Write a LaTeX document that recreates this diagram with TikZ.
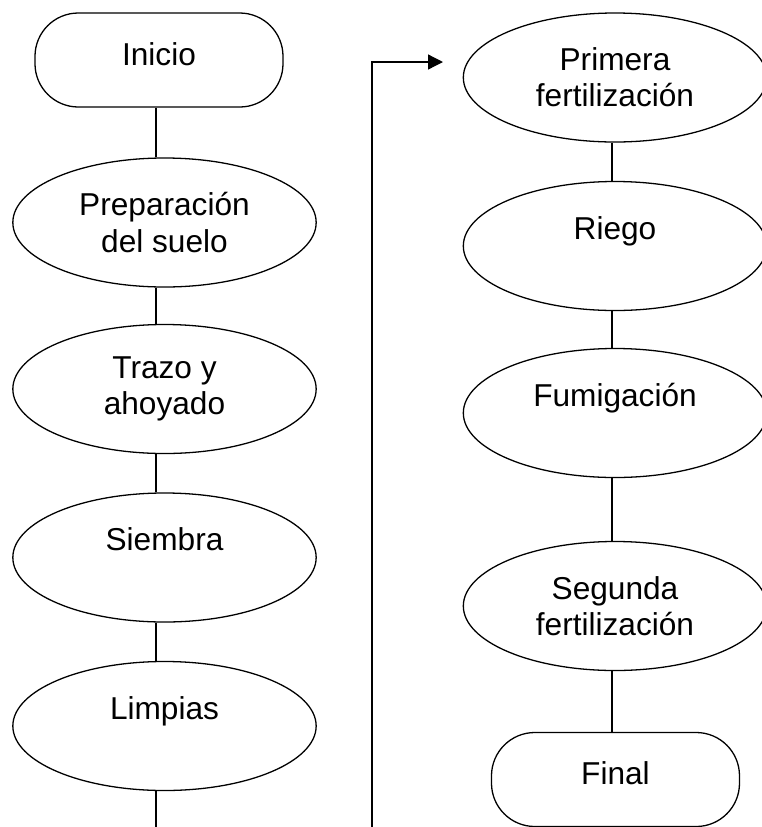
\documentclass[tikz,border=0pt]{standalone}
\usepackage{fontspec}
\setmainfont{Liberation Sans}
\usetikzlibrary{shapes.geometric,arrows.meta}
\begin{document}
\begin{tikzpicture}
  [x=0.03cm, y=-0.03cm, line width=1.1pt,
   font=\fontsize{27}{31}\selectfont,
   etapa/.style={ellipse, draw=black, inner sep=0pt, align=center, minimum width=9.1cm, minimum height=3.87cm},
   unalinea/.style={text depth=1.1cm},
   terminal/.style={rectangle, rounded corners=1.3cm, draw=black, inner sep=0pt, minimum width=7.44cm, minimum height=2.82cm, text depth=0.36cm}]

  \useasboundingbox (0,0) rectangle (762,827);

  \node[terminal] (inicio) at (159,60) {Inicio};
  \node[etapa] (prep) at (164.5,222.5) {Preparación\\del suelo};
  \node[etapa] (trazo) at (164.5,389) {Trazo y\\ahoyado};
  \node[etapa, unalinea] (siembra) at (164.5,557.5) {Siembra};
  \node[etapa, unalinea] (limpias) at (164.5,726) {Limpias};

  \node[etapa] (primera) at (615,77.5) {Primera\\fertilización};
  \node[etapa, unalinea] (riego) at (615,246) {Riego};
  \node[etapa, unalinea] (fumiga) at (615,413) {Fumigación};
  \node[etapa] (segunda) at (615,606) {Segunda\\fertilización};
  \node[terminal] (final) at (615.5,779.5) {Final};

  \coordinate (ejeI) at (156,0);
  \coordinate (ejeD) at (612,0);
  \coordinate (finI) at (156,827);
  \coordinate (vuelta) at (372,827);
  \coordinate (llegada) at (443,62);

  \foreach \from/\to/\eje in {inicio/prep/ejeI, prep/trazo/ejeI, trazo/siembra/ejeI, siembra/limpias/ejeI,
                              primera/riego/ejeD, riego/fumiga/ejeD, fumiga/segunda/ejeD, segunda/final/ejeD}
    \draw (\eje |- \from.south) -- (\eje |- \to.north);

  \draw (ejeI |- limpias.south) -- (finI);
  \draw[-{Triangle[length=0.45cm, width=0.45cm]}] (vuelta) |- (llegada);
\end{tikzpicture}
\end{document}
